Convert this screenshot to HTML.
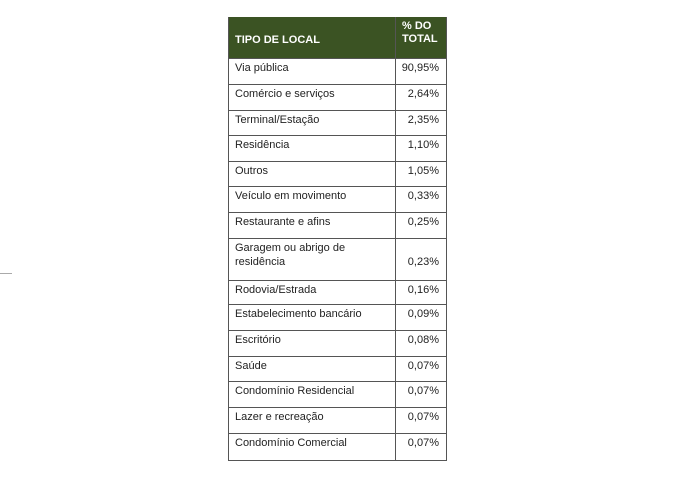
<!DOCTYPE html>
<html><head><style>
body{margin:0;width:692px;height:478px;background:#fff;position:relative;overflow:hidden;font-family:"Liberation Sans",sans-serif;font-size:11px;color:#222}
.hd{position:absolute;left:228px;top:17px;width:219px;height:41px;background:#3b5323;color:#fff;font-weight:bold}
.h{position:absolute;height:1px;left:228px;width:219px;background:#555}
.v{position:absolute;width:1px;background:#555}
.t{position:absolute;left:235px;white-space:nowrap}
.p{position:absolute;right:253px;white-space:nowrap}
</style></head><body>
<div class="hd"><span style="position:absolute;left:7px;top:17px">TIPO DE LOCAL</span><span style="position:absolute;left:174px;top:3px;line-height:13px">% DO<br>TOTAL</span></div>
<div class="v" style="left:228px;top:17px;height:444px"></div>
<div class="v" style="left:395px;top:17px;height:444px"></div>
<div class="v" style="left:446px;top:17px;height:444px"></div>
<div style="position:absolute;left:0;top:273px;width:12px;height:1px;background:#aaa"></div>
<div id="rows"></div>
<script>
var r=[["Via pública","90,95%",58,84],["Comércio e serviços","2,64%",84,110],["Terminal/Estação","2,35%",110,135],["Residência","1,10%",135,161],["Outros","1,05%",161,186],["Veículo em movimento","0,33%",186,212],["Restaurante e afins","0,25%",212,238],["Garagem ou abrigo de<br>residência","0,23%",238,280],["Rodovia/Estrada","0,16%",280,304],["Estabelecimento bancário","0,09%",304,330],["Escritório","0,08%",330,356],["Saúde","0,07%",356,381],["Condomínio Residencial","0,07%",381,407],["Lazer e recreação","0,07%",407,433],["Condomínio Comercial","0,07%",433,460]];
var h='';r.forEach(function(a,i){h+='<div class="h" style="top:'+a[2]+'px"></div>';
h+='<div class="t" style="top:'+(a[2]+3)+'px;line-height:14px">'+a[0]+'</div>';
var py=i==7?a[2]+17:a[2]+3;h+='<div class="p" style="top:'+py+'px;line-height:14px">'+a[1]+'</div>';});
h+='<div class="h" style="top:460px"></div>';
document.getElementById('rows').innerHTML=h;
</script>
</body></html>
